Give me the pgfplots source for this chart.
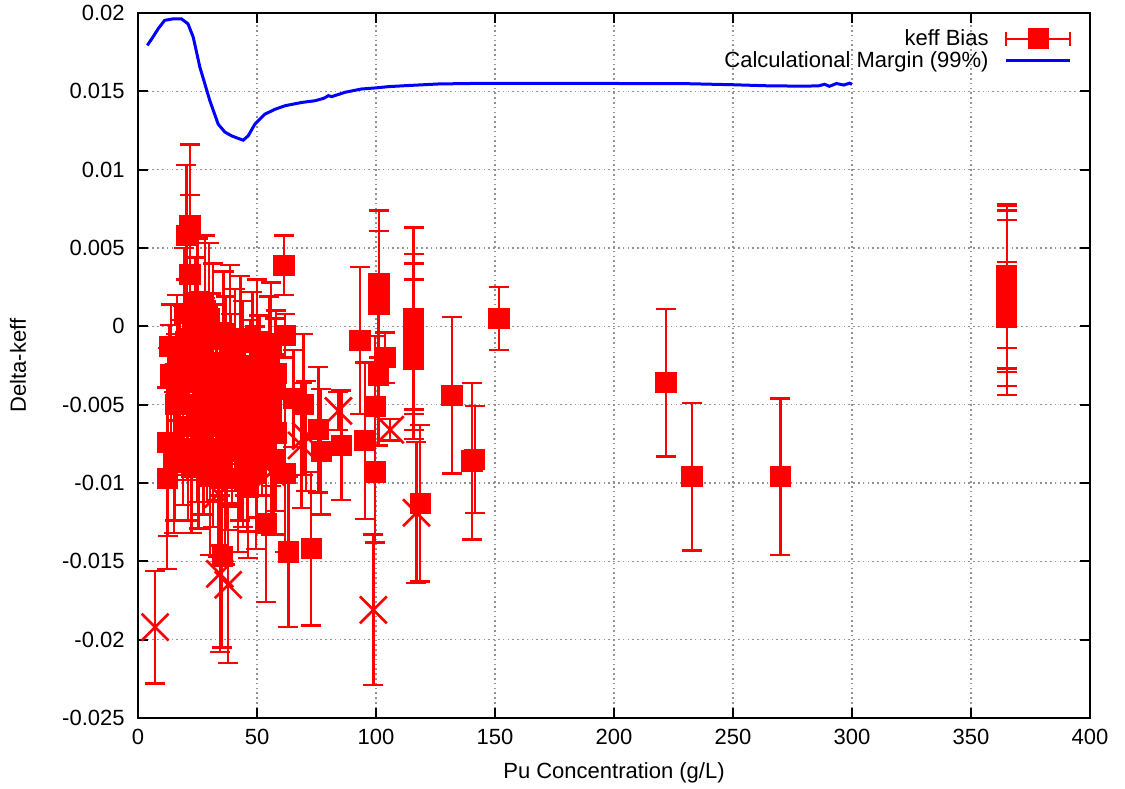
\documentclass[border=0pt]{standalone}
\usepackage{fontspec}
\setmainfont{Liberation Sans}
\usepackage{pgfplots}
\usepackage{pgfplotstable}
\pgfplotsset{compat=1.18}

\pgfplotstableread{
x y e
12.3 -0.0097 0.0058
12.6 -0.0074 0.0060
13.3 -0.0013 0.0014
13.9 -0.0031 0.0045
15.4 -0.0074 0.0050
16.0 -0.0050 0.0045
16.5 -0.0020 0.0040
15.0 -0.0087 0.0045
20.3 0.0058 0.0045
21.8 0.0064 0.0052
21.8 0.0033 0.0051
19.5 0.0008 0.0042
20.0 -0.0010 0.0040
19.0 -0.0032 0.0045
20.5 -0.0050 0.0048
19.0 -0.0064 0.0050
21.0 -0.0078 0.0046
22.5 -0.0090 0.0042
25.0 0.0014 0.0042
24.0 -0.0002 0.0046
26.0 -0.0018 0.0040
24.5 -0.0036 0.0050
27.0 -0.0048 0.0045
25.0 -0.0060 0.0052
27.5 -0.0072 0.0048
25.5 -0.0085 0.0044
28.1 0.0010 0.0048
29.8 0.0005 0.0048
31.6 -0.0008 0.0048
30.5 -0.0024 0.0045
33.0 -0.0036 0.0050
31.0 -0.0052 0.0045
33.5 -0.0064 0.0047
31.5 -0.0078 0.0050
30.2 -0.0096 0.0050
34.0 -0.0088 0.0052
36.0 -0.0005 0.0040
38.6 -0.0012 0.0051
37.0 -0.0026 0.0045
39.0 -0.0040 0.0048
36.5 -0.0055 0.0050
39.5 -0.0068 0.0045
37.5 -0.0080 0.0050
36.5 -0.0097 0.0055
35.4 -0.0147 0.0058
40.7 -0.0022 0.0046
43.0 -0.0008 0.0040
44.0 -0.0034 0.0050
42.0 -0.0048 0.0045
45.0 -0.0060 0.0048
43.0 -0.0074 0.0050
46.0 -0.0086 0.0045
46.3 -0.0103 0.0045
42.0 -0.0097 0.0047
48.1 -0.0025 0.0047
50.0 -0.0010 0.0040
51.0 -0.0038 0.0045
49.0 -0.0050 0.0050
52.0 -0.0062 0.0046
50.0 -0.0072 0.0050
53.9 -0.0081 0.0050
49.5 -0.0094 0.0048
53.9 -0.0126 0.0050
56.0 -0.0012 0.0040
55.0 -0.0026 0.0045
57.5 -0.0040 0.0045
56.0 -0.0054 0.0048
58.0 -0.0068 0.0050
57.0 -0.0085 0.0048
58.0 -0.0030 0.0040
23.0 -0.0024 0.0045
28.0 -0.0030 0.0048
35.0 -0.0044 0.0046
47.0 -0.0044 0.0048
29.0 -0.0062 0.0050
41.0 -0.0058 0.0047
53.0 -0.0050 0.0045
17.5 -0.0042 0.0046
61.3 0.0039 0.0019
61.8 -0.0006 0.0014
61.8 -0.0094 0.0050
63.2 -0.0144 0.0048
65.3 -0.0046 0.0031
69.5 -0.0050 0.0045
72.8 -0.0142 0.0049
75.8 -0.0066 0.0040
77.0 -0.0080 0.0040
85.5 -0.0076 0.0035
93.3 -0.0009 0.0047
95.4 -0.0073 0.0050
99.6 -0.0051 0.0045
99.6 -0.0093 0.0045
101.0 -0.0031 0.0045
101.3 0.0027 0.0047
101.3 0.0014 0.0047
103.9 -0.0020 0.0016
115.8 0.0005 0.0058
115.8 -0.0005 0.0051
115.8 -0.0013 0.0053
115.8 -0.0021 0.0051
118.6 -0.0113 0.0050
131.9 -0.0044 0.0050
140.3 -0.0086 0.0050
141.5 -0.0085 0.0034
151.6 0.0005 0.0020
221.9 -0.0036 0.0047
232.8 -0.0096 0.0047
269.9 -0.0096 0.0050
365.0 0.0032 0.0046
365.0 0.0025 0.0052
365.0 0.0018 0.0056
365.0 0.0012 0.0056
365.0 0.0006 0.0035
}\biasdata

\pgfplotstableread{
x y e
7.2 -0.0192 0.0036
33.7 -0.0107 0.0040
34.4 -0.0158 0.0050
37.9 -0.0165 0.0050
44.0 -0.0088 0.0040
56.0 -0.0093 0.0040
68.7 -0.0076 0.0040
70.5 -0.0070 0.0035
84.2 -0.0054 0.0012
98.9 -0.0181 0.0048
106.0 -0.0066 0.0007
117.0 -0.0119 0.0045
}\xdata

\pgfplotstableread{
x y
3.9 0.01793
6.0 0.01840
8.5 0.01900
11.2 0.01953
14.5 0.01962
18.2 0.01963
21.0 0.01931
23.2 0.01846
26.0 0.01654
28.1 0.01547
30.2 0.01440
33.7 0.01290
36.5 0.01240
39.3 0.01216
42.0 0.01200
44.2 0.01188
46.3 0.01216
49.1 0.01290
53.3 0.01354
57.5 0.01385
61.8 0.01408
68.8 0.01429
74.4 0.01440
78.0 0.01455
80.0 0.01472
81.4 0.01466
87.0 0.01494
94.0 0.01515
100.0 0.01522
105.3 0.01530
112.3 0.01536
126.3 0.01547
140.0 0.01550
170.0 0.01551
200.0 0.01550
230.0 0.01549
250.0 0.01542
265.0 0.01535
280.0 0.01533
286.0 0.01535
288.5 0.01545
290.5 0.01532
293.5 0.01550
296.5 0.01540
299.0 0.01552
300.0 0.01544
}\margindata

\begin{document}
\begin{tikzpicture}[font=\fontsize{11}{13}\selectfont]
\begin{axis}[
  scale only axis,
  width=476pt, height=352.5pt,
  xmin=0, xmax=400, ymin=-0.025, ymax=0.02,
  xtick={0,50,...,400},
  ytick={-0.025,-0.02,-0.015,-0.01,-0.005,0,0.005,0.01,0.015,0.02},
  yticklabels={-0.025,-0.02,-0.015,-0.01,-0.005,0,0.005,0.01,0.015,0.02},
  scaled y ticks=false,
  /pgf/number format/assume math mode=true,
  tick align=inside,
  major tick length=5pt,
  tick style={black, line width=0.9pt},
  axis line style={black, line width=1pt},
  grid=major,
  major grid style={gray!85, line width=0.6pt, dash pattern=on 0.8pt off 1.6pt},
  yticklabel style={inner sep=0pt, xshift=-6.5pt},
  xticklabel style={inner sep=0pt, yshift=-5.5pt},
  xlabel={Pu Concentration (g/L)},
  ylabel={Delta-keff},
  x label style={at={(axis description cs:0.5,-0.078)}, anchor=center, inner sep=0pt},
  y label style={at={(axis description cs:-0.126,0.5)}, anchor=center, inner sep=0pt},
  legend style={at={(rel axis cs:1,1)}, anchor=north east, xshift=-8pt, yshift=-5pt,
    draw=none, fill=none, row sep=-2.5pt, column sep=6pt, inner sep=1pt},
  legend cell align=right,
  legend plot pos=right,
]
\addplot[only marks, red, mark=square*, mark size=5.1pt,
  mark options={fill=red, draw=red, line width=0.5pt},
  legend image code/.code={
    \draw[red, line width=1.2pt] (0pt,0pt) -- (32pt,0pt);
    \draw[red, line width=1.2pt] (0pt,-3.5pt) -- (0pt,3.5pt) (32pt,-3.5pt) -- (32pt,3.5pt);
    \fill[red] (11pt,-5pt) rectangle (21pt,5pt);},
  error bars/.cd, y dir=both, y explicit,
  error bar style={red, line width=1.2pt},
  error mark options={red, line width=1.2pt, mark size=5pt, rotate=90}]
  table[x=x, y=y, y error=e] {\biasdata};
\addlegendentry{keff Bias}
\addplot[only marks, red, mark=x, mark size=9.5pt, forget plot,
  mark options={draw=red, line width=1.3pt},
  error bars/.cd, y dir=both, y explicit,
  error bar style={red, line width=1.2pt},
  error mark options={red, line width=1.2pt, mark size=5pt, rotate=90}]
  table[x=x, y=y, y error=e] {\xdata};
\addplot[blue, line width=1.5pt,
  legend image code/.code={\draw[blue, line width=1.5pt] (0pt,0pt) -- (32pt,0pt);}]
  table[x=x, y=y] {\margindata};
\addlegendentry{Calculational Margin (99\%)}
\end{axis}
\path ([shift={(-69pt,-35.5pt)}]current axis.south west) rectangle ([shift={(17.5pt,6.5pt)}]current axis.north east);
\end{tikzpicture}
\end{document}
